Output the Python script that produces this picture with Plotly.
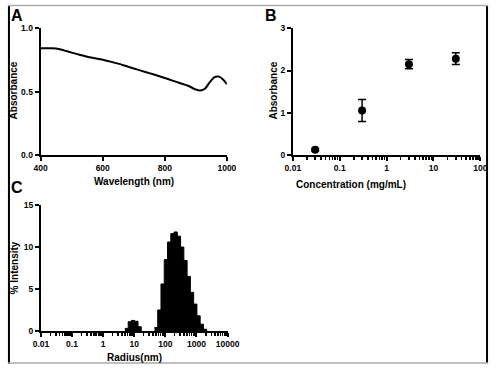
import plotly.graph_objects as go

W, H = 500, 369

# ---------------- Data ----------------
# Panel A: absorbance spectrum
wavelength_nm = [400, 425, 450, 475, 500, 525, 550, 575, 600, 625, 650, 675, 700, 725,
                 750, 775, 800, 825, 850, 875, 900, 915, 930, 945, 960, 975, 990, 1000]
absorbance_a = [0.842, 0.842, 0.841, 0.826, 0.808, 0.792, 0.776, 0.764, 0.752, 0.737, 0.721,
                0.702, 0.683, 0.664, 0.646, 0.627, 0.607, 0.587, 0.566, 0.546, 0.516, 0.509,
                0.525, 0.575, 0.615, 0.618, 0.590, 0.558]

# Panel B: absorbance vs concentration
concentration = [0.03, 0.3, 3, 30]
absorbance_b = [0.12, 1.05, 2.15, 2.28]
absorbance_b_err = [0.03, 0.26, 0.11, 0.14]

# Panel C: DLS size distribution (bin edges in nm, % intensity per bin)
radius_edges_small = [5.0, 6.4, 8.1, 10.4, 13.2, 16.8]
intensity_small = [0.3, 1.1, 1.25, 1.15, 0.5]
radius_edges_main = [44.7, 56.9, 72.4, 92.3, 117.5, 149.6, 190.5, 242.7, 309.0, 393.6,
                     501.0, 638.0, 813.0, 1035.0, 1318.0, 1679.0, 2138.0]
intensity_main = [0.4, 2.5, 5.6, 8.5, 10.6, 11.6, 11.8, 11.3, 10.0, 8.4, 6.5, 4.6, 3.2,
                  1.8, 0.8, 0.2]

tick_a_x = [400, 600, 800, 1000]
tick_a_y = [0.0, 0.5, 1.0]
tick_b_x = [0.01, 0.1, 1, 10, 100]
tick_b_y = [0, 1, 2, 3]
tick_c_x = [0.01, 0.1, 1, 10, 100, 1000, 10000]
tick_c_y = [0, 5, 10, 15]

# ---------------- Layout helpers ----------------
def xd(p0, p1):
    return [p0 / W, p1 / W]

def yd(top, bottom):
    return [1 - bottom / H, 1 - top / H]

FONT = "Liberation Sans, Arial, sans-serif"
tickfont = dict(family=FONT, size=8.5, color="black", weight="bold")

def axis_style(**kw):
    d = dict(showline=True, linewidth=2, linecolor="black", ticks="outside",
             ticklen=4, tickwidth=2, tickcolor="black", showgrid=False,
             zeroline=False, tickfont=tickfont, fixedrange=True)
    d.update(kw)
    return d

def log_minor(lo, hi):
    vals = []
    e = lo
    while e < hi:
        for m in range(2, 10):
            vals.append(m * 10 ** e)
        e += 1
    return vals

fig = go.Figure()

# Panel A
fig.add_trace(go.Scatter(x=wavelength_nm, y=absorbance_a, mode="lines",
                         line=dict(color="black", width=2, shape="spline", smoothing=0.6),
                         xaxis="x", yaxis="y", showlegend=False))

# Panel B
fig.add_trace(go.Scatter(x=concentration, y=absorbance_b, mode="markers",
                         marker=dict(color="black", size=8),
                         error_y=dict(type="data", array=absorbance_b_err, color="black",
                                      thickness=1.5, width=4),
                         xaxis="x2", yaxis="y2", showlegend=False))

# Panel C
for edges, vals in [(radius_edges_small, intensity_small), (radius_edges_main, intensity_main)]:
    fig.add_trace(go.Scatter(x=edges, y=list(vals) + [0], mode="lines",
                             line=dict(color="black", width=1, shape="hv"),
                             fill="tozeroy", fillcolor="black",
                             xaxis="x3", yaxis="y3", showlegend=False))

fig.update_layout(
    width=W, height=H, autosize=False,
    margin=dict(l=0, r=0, t=0, b=0, pad=0),
    paper_bgcolor="white", plot_bgcolor="white",
    font=dict(family=FONT, color="black"),
    hovermode=False,
    xaxis=axis_style(domain=xd(34, 228), anchor="y", range=[400, 1000],
                     tickvals=tick_a_x, ticktext=[str(v) for v in tick_a_x]),
    yaxis=axis_style(domain=yd(24, 154), anchor="x", range=[0, 1.0],
                     tickvals=tick_a_y, ticktext=["0.0", "0.5", "1.0"]),
    xaxis2=axis_style(domain=xd(296.7, 492), anchor="y2", type="log", range=[-2, 2],
                      tickvals=tick_b_x, ticktext=["0.01", "0.1", "1", "10", "100"],
                      minor=dict(ticks="outside", ticklen=3, tickwidth=1.5, tickcolor="black",
                                 tickvals=log_minor(-2, 2))),
    yaxis2=axis_style(domain=yd(24, 154), anchor="x2", range=[0, 3],
                      tickvals=tick_b_y, ticktext=[str(v) for v in tick_b_y]),
    xaxis3=axis_style(domain=xd(34.3, 228.7), anchor="y3", type="log", range=[-2, 4],
                      tickvals=tick_c_x, ticktext=["0.01", "0.1", "1", "10", "100", "1000", "10000"],
                      minor=dict(ticks="outside", ticklen=3, tickwidth=1.5, tickcolor="black",
                                 tickvals=log_minor(-2, 4))),
    yaxis3=axis_style(domain=yd(205.7, 335), anchor="x3", range=[0, 15],
                      tickvals=tick_c_y, ticktext=[str(v) for v in tick_c_y]),
)

def ann(text, px, py, size=10, angle=0):
    fig.add_annotation(text=text, x=px / W, y=1 - py / H, xref="paper", yref="paper",
                       showarrow=False, textangle=angle, xanchor="center", yanchor="middle",
                       font=dict(family=FONT, size=size, color="black", weight="bold"))

# Panel letters
ann("A", 9, 11, size=16)
ann("B", 274, 11, size=16)
ann("C", 9, 188, size=16)

# Axis titles
ann("Wavelength (nm)", 131, 181)
ann("Absorbance", 6, 88, angle=-90)
ann("Concentration (mg/mL)", 357, 184)
ann("Absorbance", 277, 88, angle=-90)
ann("Radius(nm)", 132, 362)
ann("% Intensity", 7, 270, angle=-90)

# Image frame
shapes = [
    dict(type="line", xref="paper", yref="paper", x0=1 / W, x1=1 / W, y0=0, y1=1,
         line=dict(color="black", width=2)),
    dict(type="line", xref="paper", yref="paper", x0=499 / W, x1=499 / W, y0=1 - 368 / H, y1=1,
         line=dict(color="black", width=2)),
    dict(type="line", xref="paper", yref="paper", x0=0, x1=1, y0=1 - 0.5 / H, y1=1 - 0.5 / H,
         line=dict(color="#aaaaaa", width=1.5)),
    dict(type="line", xref="paper", yref="paper", x0=0, x1=1, y0=1 - 368 / H, y1=1 - 368 / H,
         line=dict(color="#aaaaaa", width=1.5)),
]
fig.update_layout(shapes=shapes)

post = (
    "document.documentElement.style.margin='0';"
    "document.documentElement.style.padding='0';"
    "document.documentElement.style.overflow='hidden';"
    "document.body.style.margin='0';"
    "document.body.style.padding='0';"
    "document.body.style.overflow='hidden';"
    "var gd=document.getElementById('{plot_id}');"
    "gd.style.position='fixed';gd.style.left='0px';gd.style.top='0px';"
)

fig.write_html("out.html",
               config={"displayModeBar": False, "responsive": False, "staticPlot": True},
               post_script=post)
